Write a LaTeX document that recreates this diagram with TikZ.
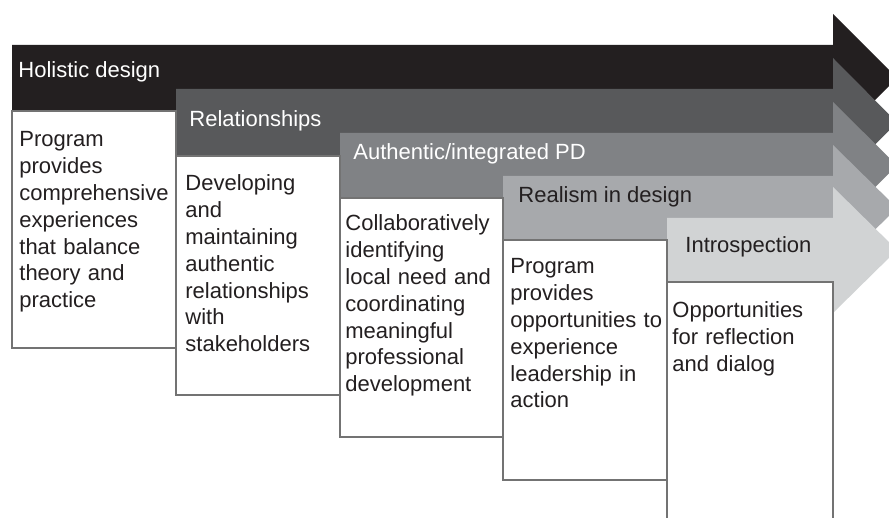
\documentclass[tikz,border=0pt]{standalone}
\usepackage{fontspec}
\setmainfont{Liberation Sans}
\usepackage{tikz}
\usetikzlibrary{positioning}
\definecolor{ink}{HTML}{231F20}
\definecolor{grayA}{HTML}{58595B}
\definecolor{grayB}{HTML}{808285}
\definecolor{grayC}{HTML}{A7A9AC}
\definecolor{grayD}{HTML}{D1D3D4}
\tikzset{
  stagelabel/.style = {anchor=base west, inner sep=0pt, font=\fontsize{11}{13.4}\selectfont},
  stage_w/.style = {stagelabel, text=white},
  stage_k/.style = {stagelabel, text=ink},
  stagebox/.style = {draw=black!55, line width=0.7pt, fill=white},
  stagetext/.style = {anchor=base west, inner sep=0pt, align=left, text width=82pt, text=ink, font=\fontsize{11}{13.4}\selectfont}
}
\begin{document}
\begin{tikzpicture}[x=0.5pt,y=-0.5pt]
  \useasboundingbox (0,0) rectangle (889,518);
  \clip (0,0) rectangle (889,518);
  \fill[ink]   (12,45)   -- (833,45)  -- (833,14)  -- (897,78)    -- (833,142) -- (833,111) -- (12,111)  -- cycle;
  \fill[grayA] (176,89)  -- (833,89)  -- (833,58)  -- (897,122.5) -- (833,187) -- (833,156) -- (176,156) -- cycle;
  \fill[grayB] (340,133) -- (833,133) -- (833,102) -- (897,165.5) -- (833,229) -- (833,198) -- (340,198) -- cycle;
  \fill[grayC] (503,176) -- (833,176) -- (833,145) -- (897,208)   -- (833,271) -- (833,240) -- (503,240) -- cycle;
  \fill[grayD] (667,218) -- (833,218) -- (833,187) -- (897,250)   -- (833,313) -- (833,282) -- (667,282) -- cycle;
  \draw[stagebox] (12,111)  rectangle (176,348);
  \draw[stagebox] (176,156) rectangle (340,395);
  \draw[stagebox] (340,198) rectangle (503,437);
  \draw[stagebox] (503,240) rectangle (667,480);
  \draw[stagebox] (667,282) rectangle (833,530);
  \node[stage_w] (holistic) at (18,78) {Holistic design};
  \node[stage_w] (relations) at (189,127) {Relationships};
  \node[stage_w] (authentic) at (353,160) {Authentic/integrated PD};
  \node[stage_k] (realism) at (518,203) {Realism in design};
  \node[stage_k] (introspect) at (685,253) {Introspection};
  \node[stagetext] (holistic_t) at (19,147) {Program\\provides\\comprehensive\\experiences\\that balance\\theory and\\practice};
  \node[stagetext] (relations_t) at (185,191) {Developing\\and\\maintaining\\authentic\\relationships\\with\\stakeholders};
  \node[stagetext] (authentic_t) at (345,231) {Collaboratively\\identifying\\local need and\\coordinating\\meaningful\\professional\\development};
  \node[stagetext] (realism_t) at (510,274) {Program\\provides\\opportunities to\\experience\\leadership in\\action};
  \node[stagetext] (introspect_t) at (672,318) {Opportunities\\for reflection\\and dialog};
\end{tikzpicture}
\end{document}
